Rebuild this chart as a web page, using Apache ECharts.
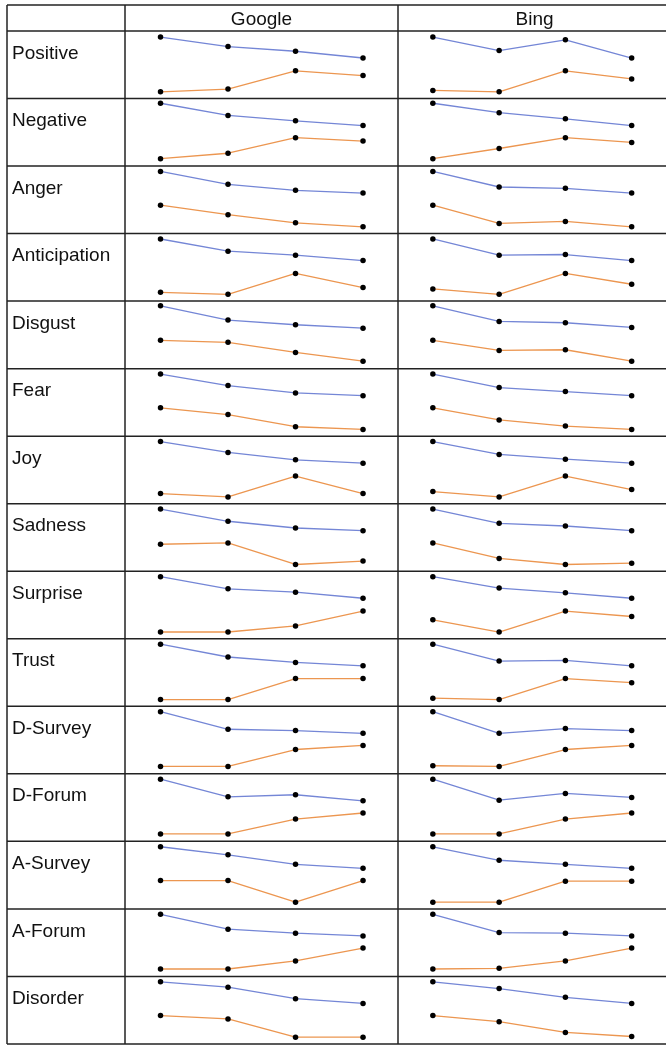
<!DOCTYPE html>
<html>
<head>
<meta charset="utf-8">
<script src="https://cdn.jsdelivr.net/npm/echarts@6/dist/echarts.min.js"></script>
<style>
html,body{margin:0;padding:0;background:#fff;}
#chart{width:666px;height:1046px;}
</style>
</head>
<body>
<div id="chart"></div>
<script>
const rows = ['Positive','Negative','Anger','Anticipation','Disgust','Fear','Joy','Sadness','Surprise','Trust','D-Survey','D-Forum','A-Survey','A-Forum','Disorder'];
const columns = ['Google','Bing'];
const steps = [0,1,2,3];

const googleBlue = [
  [91,77,70,60],[93,75,67,60],[92,73,64,60],[92,74,68,60],[93,72,65,60],
  [92,75,64,60],[92,76,65,60],[92,74,64,60],[92,74,69,60],[92,73,65,60],
  [92,66,64,60],[92,66,69,60],[92,80,66,60],[92,70,64,60],[92,84,67,60]
];
const googleOrange = [
  [10,14,41,34],[11,19,42,37],[42,28,16,10],[13,10,41,20],[42,39,24,11],
  [42,32,14,10],[15,10,41,15],[40,42,10,15],[10,10,19,41],[10,10,41,41],
  [11,11,36,42],[11,11,33,42],[42,42,10,42],[11,11,23,42],[42,37,10,10]
];
const bingBlue = [
  [91,71,87,60],[93,79,70,60],[92,69,67,60],[92,68,69,60],[93,70,68,61],
  [92,72,66,60],[92,73,66,60],[92,71,67,60],[92,75,68,60],[92,67,68,60],
  [92,60,67,64],[92,61,71,65],[92,72,66,60],[92,65,64,60],[92,82,69,60]
];
const bingOrange = [
  [12,10,41,29],[11,26,42,35],[42,15,18,10],[18,10,41,25],[42,27,28,11],
  [42,24,15,10],[18,10,41,21],[42,19,10,12],[28,10,41,33],[12,10,41,35],
  [12,11,36,42],[11,11,33,42],[10,10,41,41],[11,12,23,42],[42,33,17,11]
];

const chart = echarts.init(document.getElementById('chart'), null, {renderer:'canvas'});

// layout
const L = 7, C1 = 125, C2 = 398, CW = 273, T = 5, H0 = 31, RH = 67.53, R = 666;
const blueColor = '#7486d6', orangeColor = '#ec9650';
const font = '19px "Liberation Sans", Arial, sans-serif';

const grids = [], xAxes = [], yAxes = [], series = [];
const colData = [[googleBlue, googleOrange],[bingBlue, bingOrange]];
let gi = 0;
for (let c = 0; c < 2; c++) {
  for (let r = 0; r < rows.length; r++) {
    grids.push({left: (c === 0 ? C1 : C2), top: H0 + RH * r, width: CW, height: RH, show: false});
    xAxes.push({type:'value', gridIndex: gi, min: -0.526, max: 3.518, show: false});
    yAxes.push({type:'value', gridIndex: gi, min: 0, max: 100, show: false});
    const pair = colData[c];
    [[pair[0], blueColor],[pair[1], orangeColor]].forEach(([arr, col]) => {
      series.push({
        type:'line', xAxisIndex: gi, yAxisIndex: gi,
        data: arr[r].map((v,i) => [steps[i], v]),
        symbol:'circle', symbolSize: 5.5, showSymbol: true,
        lineStyle:{color: col, width: 1.3},
        itemStyle:{color:'#000'},
        emphasis:{disabled:true}, silent: true, animation: false, z: 3
      });
    });
    gi++;
  }
}

const graphics = [];
const stroke = {stroke:'#222', lineWidth:1.5};
const bottom = H0 + RH * rows.length;
const hs = [T, H0];
for (let r = 1; r <= rows.length; r++) hs.push(H0 + RH * r);
hs.forEach(y => graphics.push({type:'line', shape:{x1:L, y1:y, x2:R, y2:y}, style:stroke, z:10}));
[L, C1, C2].forEach(x => graphics.push({type:'line', shape:{x1:x, y1:T, x2:x, y2:bottom}, style:stroke, z:10}));
columns.forEach((name, c) => {
  graphics.push({type:'text', style:{text:name, x:(c===0?C1:C2) + CW/2, y:19.4, font:font, fill:'#111', textAlign:'center', textVerticalAlign:'middle'}, z:10});
});
rows.forEach((name, r) => {
  graphics.push({type:'text', style:{text:name, x:12, y:H0 + RH*r + 22.4, font:font, fill:'#111', textAlign:'left', textVerticalAlign:'middle'}, z:10});
});

chart.setOption({
  animation:false,
  backgroundColor:'#fff',
  grid: grids, xAxis: xAxes, yAxis: yAxes, series: series,
  graphic: graphics
});
</script>
</body>
</html>
